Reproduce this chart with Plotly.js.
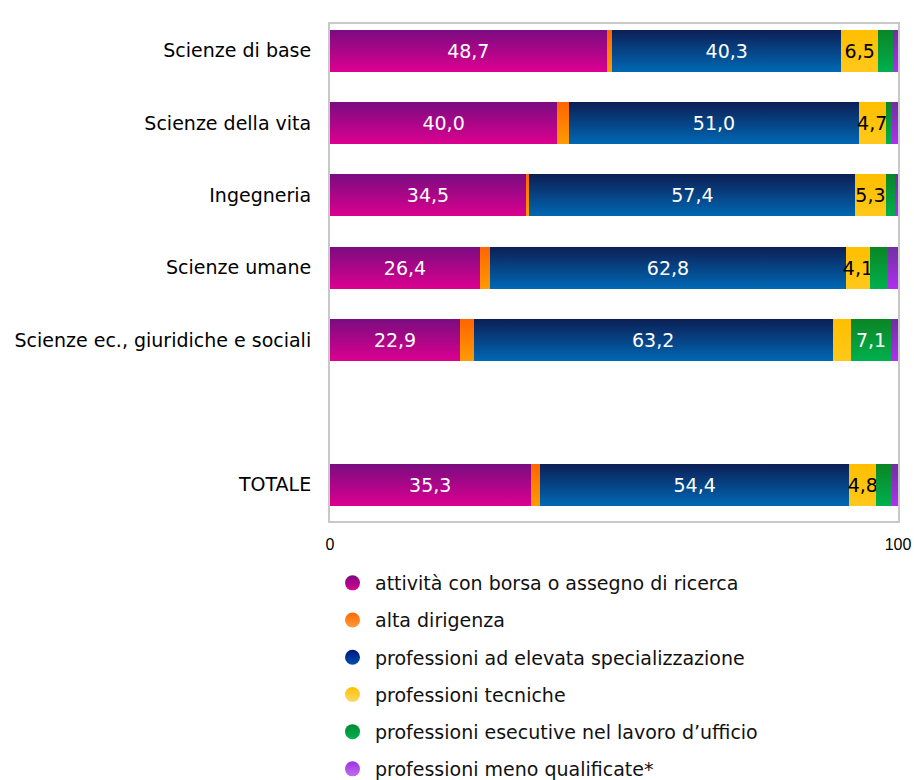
<!DOCTYPE html>
<html>
<head>
<meta charset="utf-8">
<script src="https://cdn.plot.ly/plotly-3.0.1.min.js"></script>
<style>
html,body{margin:0;padding:0;background:#fff;}
#chart{width:914px;height:780px;}
</style>
</head>
<body>
<div id="chart"></div>
<script>
// ---- data ----
var categories = ["Scienze di base", "Scienze della vita", "Ingegneria", "Scienze umane", "Scienze ec., giuridiche e sociali", "TOTALE"];
var categoryOrder = ["Scienze di base", "Scienze della vita", "Ingegneria", "Scienze umane", "Scienze ec., giuridiche e sociali", " ", "TOTALE"];
var seriesNames = [
  "attività con borsa o assegno di ricerca",
  "alta dirigenza",
  "professioni ad elevata specializzazione",
  "professioni tecniche",
  "professioni esecutive nel lavoro d’ufficio",
  "professioni meno qualificate*"
];
var borsa      = [48.7, 40.0, 34.5, 26.4, 22.9, 35.3];
var dirigenza  = [1.0, 2.1, 0.6, 1.7, 2.4, 1.7];
var elevata    = [40.3, 51.0, 57.4, 62.8, 63.2, 54.4];
var tecniche   = [6.5, 4.7, 5.3, 4.1, 3.2, 4.8];
var esecutive  = [2.6, 1.2, 1.7, 3.2, 7.1, 2.7];
var menoQual   = [0.9, 1.0, 0.5, 1.8, 1.2, 1.1];
var xTicks = [0, 100];

// ---- styles ----
var topColors    = ["#7a0c80", "#ff6400", "#0c1f55", "#ffbf00", "#0b8525", "#7030a0"];
var bottomColors = ["#dc0090", "#ff9c00", "#0068b4", "#ffc81a", "#00b04f", "#b030f0"];
var legTop       = ["#7a0c80", "#ff6a00", "#00157a", "#ffbf00", "#008a30", "#9b30e0"];
var legBottom    = ["#dc0090", "#ff9a3a", "#0050b0", "#ffd966", "#00b050", "#c070f0"];
var textColors   = ["#ffffff", "#ffffff", "#ffffff", "#000000", "#ffffff", "#ffffff"];
var FONT = "DejaVu Sans, sans-serif";

var allSeries = [borsa, dirigenza, elevata, tecniche, esecutive, menoQual];

function label(v) { return v >= 4 ? v.toFixed(1).replace(".", ",") : ""; }

var traces = [];
allSeries.forEach(function (vals, i) {
  traces.push({
    type: "bar",
    orientation: "h",
    name: seriesNames[i],
    y: categories,
    x: vals,
    text: vals.map(label),
    textposition: "inside",
    insidetextanchor: "middle",
    constraintext: "none",
    textangle: 0,
    textfont: {family: FONT, size: 19, color: textColors[i]},
    marker: {color: topColors[i], line: {width: 0}},
    width: 0.58,
    showlegend: false,
    hoverinfo: "skip"
  });
});
// legend entries (circle markers)
seriesNames.forEach(function (n, i) {
  traces.push({
    type: "scatter",
    mode: "markers",
    name: n,
    x: [null],
    y: [null],
    legendgroup: "g" + i,
    marker: {symbol: "circle", size: 15, color: legTop[i],
             gradient: {type: "vertical", color: legBottom[i]}},
    showlegend: true,
    hoverinfo: "skip"
  });
});

var layout = {
  width: 914,
  height: 780,
  margin: {l: 330, r: 16, t: 24, b: 259, autoexpand: false},
  barmode: "stack",
  paper_bgcolor: "#ffffff",
  plot_bgcolor: "#ffffff",
  separators: ",.",
  font: {family: FONT, size: 19, color: "#000"},
  showlegend: true,
  legend: {
    x: 0, xanchor: "left",
    y: -0.0865, yanchor: "top",
    orientation: "v",
    traceorder: "grouped",
    tracegroupgap: 9.5,
    font: {family: FONT, size: 19, color: "#111"},
    bgcolor: "rgba(0,0,0,0)",
    itemwidth: 35
  },
  xaxis: {
    range: [0, 100],
    tickmode: "array",
    tickvals: xTicks,
    ticktext: xTicks.map(String),
    showgrid: false,
    zeroline: false,
    showline: true,
    linecolor: "#c8c8c8",
    linewidth: 2,
    mirror: true,
    ticks: "outside",
    ticklen: 8,
    tickcolor: "rgba(0,0,0,0)",
    tickfont: {family: "Liberation Sans, Arial, sans-serif", size: 16, color: "#000"},
    fixedrange: true
  },
  yaxis: {
    type: "category",
    categoryorder: "array",
    categoryarray: categoryOrder,
    range: [6.5, -0.37],
    autorange: false,
    showgrid: false,
    zeroline: false,
    showline: true,
    linecolor: "#c8c8c8",
    linewidth: 2,
    mirror: true,
    ticks: "outside",
    ticklen: 13,
    tickcolor: "rgba(0,0,0,0)",
    tickfont: {family: FONT, size: 19, color: "#000"},
    fixedrange: true
  }
};

Plotly.newPlot("chart", traces, layout, {staticPlot: true, displayModeBar: false}).then(function (gd) {
  // vertical gradient fill for the bars
  var svg = gd.querySelector(".main-svg");
  var ns = "http://www.w3.org/2000/svg";
  var defs = svg.querySelector("defs");
  if (!defs) { defs = document.createElementNS(ns, "defs"); svg.insertBefore(defs, svg.firstChild); }
  topColors.forEach(function (c, i) {
    var lg = document.createElementNS(ns, "linearGradient");
    lg.setAttribute("id", "barGrad" + i);
    lg.setAttribute("x1", "0"); lg.setAttribute("y1", "0");
    lg.setAttribute("x2", "0"); lg.setAttribute("y2", "1");
    var s1 = document.createElementNS(ns, "stop");
    s1.setAttribute("offset", "0"); s1.setAttribute("stop-color", c);
    var s2 = document.createElementNS(ns, "stop");
    s2.setAttribute("offset", "1"); s2.setAttribute("stop-color", bottomColors[i]);
    lg.appendChild(s1); lg.appendChild(s2);
    defs.appendChild(lg);
  });
  var barTraces = gd.querySelectorAll(".barlayer .trace");
  barTraces.forEach(function (t, i) {
    t.querySelectorAll(".point path").forEach(function (p) {
      p.style.fill = "url(#barGrad" + i + ")";
    });
  });
});
</script>
</body>
</html>
